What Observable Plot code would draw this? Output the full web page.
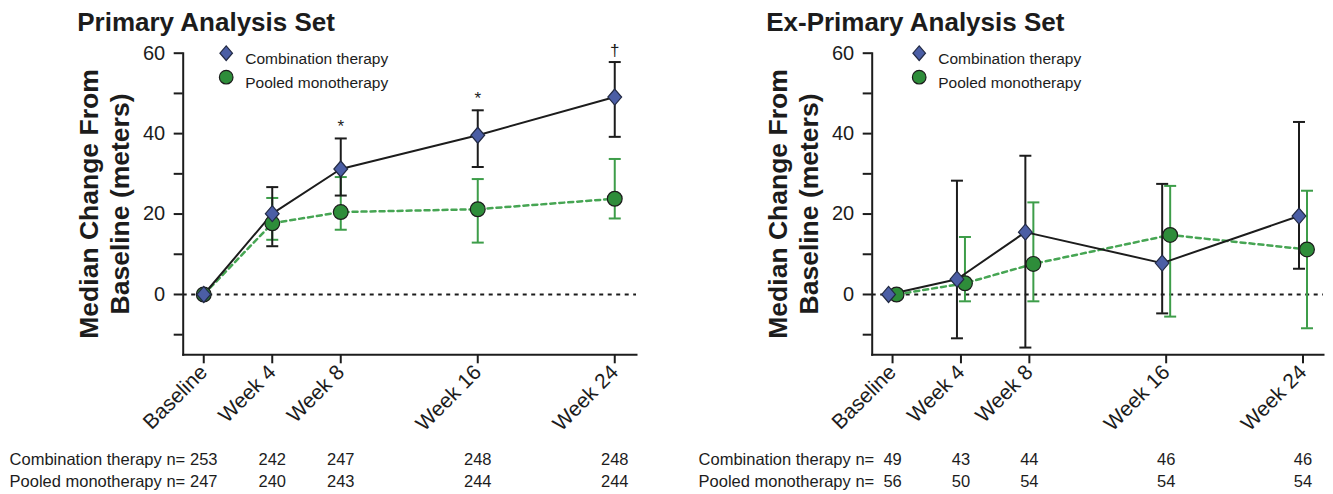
<!DOCTYPE html>
<html><head><meta charset="utf-8">
<script src="https://cdn.jsdelivr.net/npm/d3@7"></script>
<script src="https://cdn.jsdelivr.net/npm/@observablehq/plot@0.6"></script>
<style>
body{margin:0;background:#fff;}
#wrap{position:relative;width:1333px;height:494px;overflow:hidden;font-family:"Liberation Sans",Arial,sans-serif;}
#wrap svg{position:absolute;top:0;overflow:visible;}
</style></head><body><div id="wrap"></div>
<script>
// ---- shared categories / ticks ----
const weeks = [0, 4, 8, 16, 24];
const timeLabels = ["Baseline", "Week 4", "Week 8", "Week 16", "Week 24"];
const yMajorTicks = [60, 40, 20, 0];
const yMinorTicks = [50, 30, 10, -10];
const seriesNames = ["Combination therapy", "Pooled monotherapy"];

// ---- Primary Analysis Set ----
const pasComboMedian = [0, 20.1, 31.2, 39.6, 49.1];
const pasComboLow    = [0, 12.0, 24.6, 31.7, 39.2];
const pasComboHigh   = [0, 26.7, 38.8, 45.8, 57.8];
const pasPooledMedian = [0, 17.7, 20.5, 21.2, 23.8];
const pasPooledLow    = [0, 13.6, 16.1, 12.9, 18.9];
const pasPooledHigh   = [0, 24.0, 29.2, 28.7, 33.7];
const pasComboN  = [253, 242, 247, 248, 248];
const pasPooledN = [247, 240, 243, 244, 244];
const pasSignif  = ["", "", "*", "*", "\u2020"];

// ---- Ex-Primary Analysis Set ----
const exComboMedian = [0, 3.8, 15.5, 7.8, 19.5];
const exComboLow    = [0, -10.9, -13.2, -4.7, 6.4];
const exComboHigh   = [0, 28.3, 34.5, 27.5, 42.9];
const exPooledMedian = [0, 2.8, 7.6, 14.8, 11.2];
const exPooledLow    = [0, -1.7, -1.7, -5.5, -8.4];
const exPooledHigh   = [0, 14.3, 22.9, 27.0, 25.8];
const exComboN  = [49, 43, 44, 46, 46];
const exPooledN = [56, 50, 54, 54, 54];
const exSignif  = ["", "", "", "", ""];

// ---- styling ----
const BLUE = "#4b5ea5", GREEN_FILL = "#2e8d3a", GREEN_LINE = "#46a553", GREEN_ERR = "#3d9d49", INK = "#1c1c1c";
const FONT = "'Liberation Sans', Arial, sans-serif";

const diamondSym = {draw(ctx, size) {
  const r = Math.sqrt(size / Math.PI), w = r * 0.86;
  ctx.moveTo(0, -r); ctx.lineTo(w, 0); ctx.lineTo(0, r); ctx.lineTo(-w, 0); ctx.closePath();
}};
const capSym = {draw(ctx, size) {
  const r = Math.sqrt(size / Math.PI);
  ctx.moveTo(-r, 0); ctx.lineTo(r, 0);
}};

function rows(med, lo, hi, n, sig) {
  return weeks.map((w, i) => ({week: w, label: timeLabels[i], med: med[i], lo: lo[i], hi: hi[i], n: n[i], sig: sig ? sig[i] : ""}));
}

function panel(o) {
  const combo = rows(o.cMed, o.cLo, o.cHi, o.cN, o.sig);
  const pooled = rows(o.pMed, o.pLo, o.pHi, o.pN, null);
  const cErr = combo.filter(d => d.lo !== d.hi);
  const pErr = pooled.filter(d => d.lo !== d.hi);
  const cdx = -o.dodge, pdx = o.dodge;
  return Plot.plot({
    width: o.width, height: 494,
    marginLeft: o.marginLeft, marginRight: o.marginRight, marginTop: 52.7, marginBottom: 139.7,
    x: {domain: o.xDomain},
    y: {domain: [-15, 60]},
    style: {fontFamily: FONT, background: "transparent", overflow: "visible", color: INK},
    marks: [
      Plot.ruleY([0], {stroke: INK, strokeWidth: 2.2, strokeDasharray: "4,4.5"}),
      Plot.axisY({ticks: yMinorTicks, tickSize: 9, tickFormat: () => "", strokeWidth: 2, label: null}),
      Plot.axisY({ticks: yMajorTicks, tickSize: 9, tickPadding: 9, fontSize: 20, strokeWidth: 2, label: null}),
      Plot.axisX({ticks: weeks, tickFormat: d => timeLabels[weeks.indexOf(d)], tickRotate: -45, tickSize: 9, tickPadding: 5, fontSize: 21, strokeWidth: 2, label: null}),
      Plot.frame({anchor: "left", stroke: INK, strokeWidth: 2}),
      Plot.frame({anchor: "bottom", stroke: INK, strokeWidth: 2}),
      // pooled error bars + line
      Plot.ruleX(pErr, {x: "week", y1: "lo", y2: "hi", stroke: GREEN_ERR, strokeWidth: 2, dx: pdx}),
      Plot.dot(pErr, {x: "week", y: "lo", symbol: capSym, r: 6, stroke: GREEN_ERR, fill: "none", strokeWidth: 2, dx: pdx}),
      Plot.dot(pErr, {x: "week", y: "hi", symbol: capSym, r: 6, stroke: GREEN_ERR, fill: "none", strokeWidth: 2, dx: pdx}),
      Plot.line(pooled, {x: "week", y: "med", stroke: GREEN_LINE, strokeWidth: 2.5, strokeDasharray: "5,4", dx: pdx}),
      // combination error bars + line
      Plot.ruleX(cErr, {x: "week", y1: "lo", y2: "hi", stroke: INK, strokeWidth: 2, dx: cdx}),
      Plot.dot(cErr, {x: "week", y: "lo", symbol: capSym, r: 6, stroke: INK, fill: "none", strokeWidth: 2, dx: cdx}),
      Plot.dot(cErr, {x: "week", y: "hi", symbol: capSym, r: 6, stroke: INK, fill: "none", strokeWidth: 2, dx: cdx}),
      Plot.line(combo, {x: "week", y: "med", stroke: INK, strokeWidth: 2, dx: cdx}),
      // markers
      Plot.dot(pooled, {x: "week", y: "med", r: 7.4, fill: GREEN_FILL, stroke: INK, strokeWidth: 1.2, dx: pdx}),
      Plot.dot(combo, {x: "week", y: "med", symbol: diamondSym, r: 8, fill: BLUE, stroke: "#222a44", strokeWidth: 1.2, dx: cdx}),
      // significance markers
      Plot.text(combo.filter(d => d.sig), {x: "week", y: "hi", text: "sig", dy: -12, fontSize: 17, fill: INK}),
      // legend
      Plot.dot([seriesNames[0]], {frameAnchor: "top-left", dx: o.legDx, dy: 0, symbol: diamondSym, r: 7.3, fill: BLUE, stroke: "#222a44", strokeWidth: 1.2}),
      Plot.dot([seriesNames[1]], {frameAnchor: "top-left", dx: o.legDx, dy: 24, r: 6.8, fill: GREEN_FILL, stroke: INK, strokeWidth: 1.2}),
      Plot.text([seriesNames[0]], {frameAnchor: "top-left", dx: o.legDx + 19, dy: 0, text: d => d, textAnchor: "start", fontSize: 15.5, fill: INK}),
      Plot.text([seriesNames[1]], {frameAnchor: "top-left", dx: o.legDx + 19, dy: 24, text: d => d, textAnchor: "start", fontSize: 15.5, fill: INK}),
      // title
      Plot.text([o.title], {frameAnchor: "top-left", dx: -106, dy: -22, text: d => d, textAnchor: "start", lineAnchor: "bottom", fontSize: 26, fontWeight: "bold", fill: INK}),
      // y label
      Plot.text(["Median Change From\nBaseline (meters)"], {frameAnchor: "left", dx: -80, text: d => d, rotate: -90, textAnchor: "middle", lineAnchor: "middle", fontSize: 26.5, fontWeight: "bold", lineHeight: 1.18, fill: INK}),
      // n table
      Plot.text(combo, {x: "week", text: d => String(d.n), frameAnchor: "bottom", dy: 110, fontSize: 16.5, fill: INK}),
      Plot.text(pooled, {x: "week", text: d => String(d.n), frameAnchor: "bottom", dy: 132, fontSize: 16.5, fill: INK}),
      Plot.text([seriesNames[0] + " n="], {frameAnchor: "bottom-left", text: d => d, dx: 2, dy: 110, textAnchor: "end", fontSize: 16.5, fill: INK}),
      Plot.text([seriesNames[1] + " n="], {frameAnchor: "bottom-left", text: d => d, dx: 2, dy: 132, textAnchor: "end", fontSize: 16.5, fill: INK})
    ]
  });
}

const wrap = document.getElementById("wrap");
const left = panel({
  cMed: pasComboMedian, cLo: pasComboLow, cHi: pasComboHigh,
  pMed: pasPooledMedian, pLo: pasPooledLow, pHi: pasPooledHigh,
  cN: pasComboN, pN: pasPooledN, sig: pasSignif,
  title: "Primary Analysis Set",
  width: 666, marginLeft: 182.7, marginRight: 30, xDomain: [-1.2, 25.27], dodge: 0, legDx: 43
});
left.style.left = "0px";
const right = panel({
  cMed: exComboMedian, cLo: exComboLow, cHi: exComboHigh,
  pMed: exPooledMedian, pLo: exPooledLow, pHi: exPooledHigh,
  cN: exComboN, pN: exPooledN, sig: exSignif,
  title: "Ex-Primary Analysis Set",
  width: 667, marginLeft: 205.7, marginRight: 10, xDomain: [-1.19, 25.2], dodge: 4, legDx: 47
});
right.style.left = "666px";
wrap.appendChild(left);
wrap.appendChild(right);
</script>
</body></html>
